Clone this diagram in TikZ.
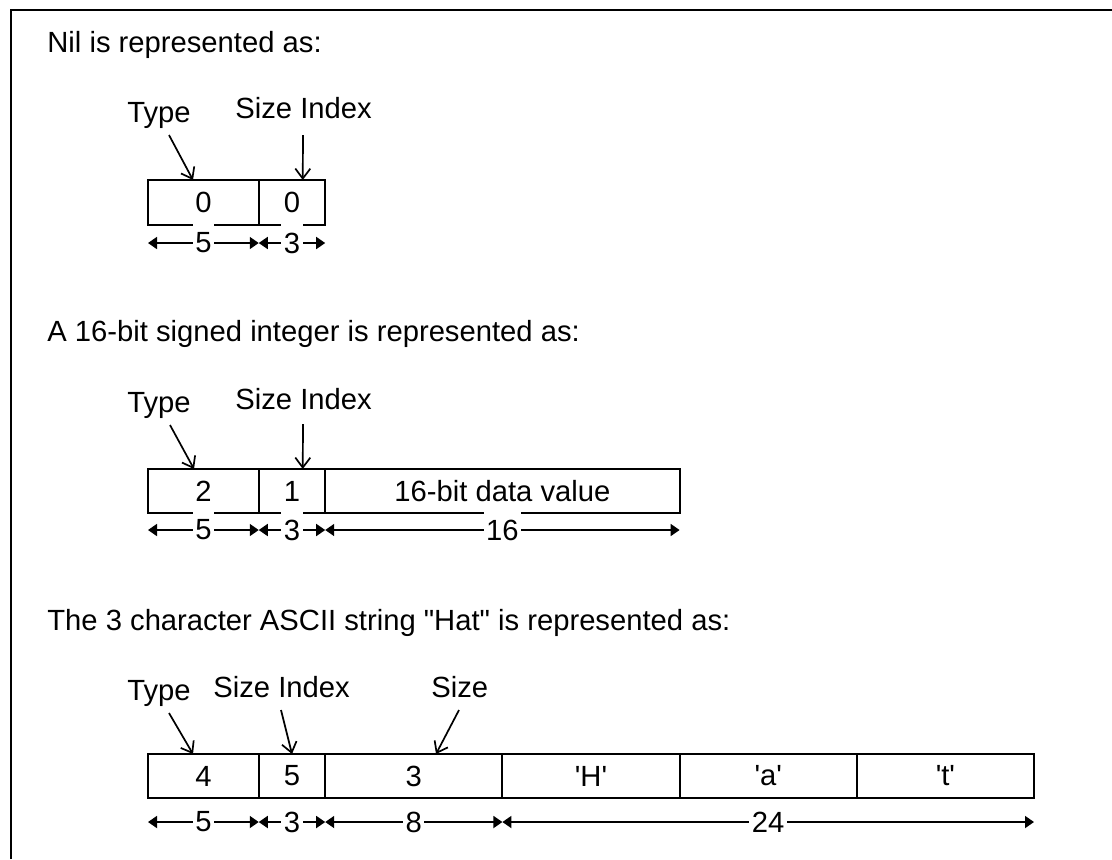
\documentclass[tikz,border=0pt]{standalone}
\usepackage{fontspec}
\setmainfont{Liberation Sans}
\usetikzlibrary{arrows.meta,calc}
\begin{document}
\begin{tikzpicture}[x=0.5pt,y=-0.5pt,
  txtfont/.style={font=\fontsize{14.6pt}{17pt}\selectfont},
  head/.style={txtfont, inner sep=0pt, anchor=base west},
  lab/.style={txtfont, inner sep=0pt, anchor=base west},
  cell/.style={draw, line width=1pt, outer sep=0pt, inner sep=0pt, txtfont},
  cellA/.style={cell, minimum width=55.375pt},
  cellB/.style={cell, minimum width=33.225pt},
  cellC/.style={cell, minimum width=88.6pt},
  dim/.style={line width=0.85pt, {Triangle[length=4.5pt,width=6pt]}-{Triangle[length=4.5pt,width=6pt]}},
  dimlab/.style={fill=white, inner xsep=1.25pt, inner ysep=0pt, minimum height=20pt, txtfont},
  ann/.style={line width=0.85pt, -{Straight Barb[length=5pt,width=7.5pt]}}
]
\useasboundingbox (0,0) rectangle (1112,859);
\draw[line width=1.25pt] (11,859) -- (11,10) -- (1112,10);

% Section 1
\node[head] (h1) at (47,52) {Nil is represented as:};
\node[lab] (t1) at (127,122) {Type};
\node[lab] (s1) at (235,118) {Size Index};
\node[cellA, minimum height=22.5pt] (c11) at (203.375,202.5) {0};
\node[cellB, minimum height=22.5pt] (c12) at (291.975,202.5) {0};
\draw[ann] ($(t1.base west)+(42,13)$) -- ($(c11.north west)+(45,0)$);
\draw[ann] ($(s1.base west)+(68,17)$) -- ($(c12.north west)+(44,0)$);
\draw[dim] ($(c11.south west)+(0,18)$) -- node[dimlab]{5} ($(c11.south east)+(0,18)$);
\draw[dim] ($(c12.south west)+(0,18)$) -- node[dimlab]{3} ($(c12.south east)+(0,18)$);

% Section 2
\node[head] (h2) at (47,341) {A 16-bit signed integer is represented as:};
\node[lab] (t2) at (127,412) {Type};
\node[lab] (s2) at (235,409) {Size Index};
\node[cellA, minimum height=22pt] (c21) at (203.375,491) {2};
\node[cellB, minimum height=22pt] (c22) at (291.975,491) {1};
\node[cell, minimum width=177.2pt, minimum height=22pt] (c23) at (502.4,491) {16-bit data value};
\draw[ann] ($(t2.base west)+(43,13)$) -- ($(c21.north west)+(46,0)$);
\draw[ann] ($(s2.base west)+(68,15)$) -- ($(c22.north west)+(44,0)$);
\draw[dim] ($(c21.south west)+(0,17)$) -- node[dimlab]{5} ($(c21.south east)+(0,17)$);
\draw[dim] ($(c22.south west)+(0,17)$) -- node[dimlab]{3} ($(c22.south east)+(0,17)$);
\draw[dim] ($(c23.south west)+(0,17)$) -- node[dimlab]{16} ($(c23.south east)+(0,17)$);

% Section 3
\node[head] (h3) at (47,630) {The 3 character ASCII string \textquotedbl Hat\textquotedbl\ is represented as:};
\node[lab] (t3) at (127,700) {Type};
\node[lab] (s3) at (213,697) {Size Index};
\node[lab] (z3) at (431,697) {Size};
\node[cellA, minimum height=22pt] (c31) at (203.375,776) {4};
\node[cellB, minimum height=22pt] (c32) at (291.975,776) {5};
\node[cellC, minimum height=22pt] (c33) at (413.8,776) {3};
\node[cellC, minimum height=22pt] (c34) at (591.0,776) {\textquotesingle H\textquotesingle};
\node[cellC, minimum height=22pt] (c35) at (768.2,776) {\textquotesingle a\textquotesingle};
\node[cellC, minimum height=22pt] (c36) at (945.4,776) {\textquotesingle t\textquotesingle};
\draw[ann] ($(t3.base west)+(42,13)$) -- ($(c31.north west)+(45,0)$);
\draw[ann] ($(s3.base west)+(68,13)$) -- ($(c32.north west)+(33.25,0)$);
\draw[ann] ($(z3.base west)+(28,13)$) -- ($(c33.north west)+(110.8,0)$);
\draw[dim] ($(c31.south west)+(0,24)$) -- node[dimlab]{5} ($(c31.south east)+(0,24)$);
\draw[dim] ($(c32.south west)+(0,24)$) -- node[dimlab]{3} ($(c32.south east)+(0,24)$);
\draw[dim] ($(c33.south west)+(0,24)$) -- node[dimlab]{8} ($(c33.south east)+(0,24)$);
\draw[dim] ($(c34.south west)+(0,24)$) -- node[dimlab]{24} ($(c36.south east)+(0,24)$);
\end{tikzpicture}
\end{document}
